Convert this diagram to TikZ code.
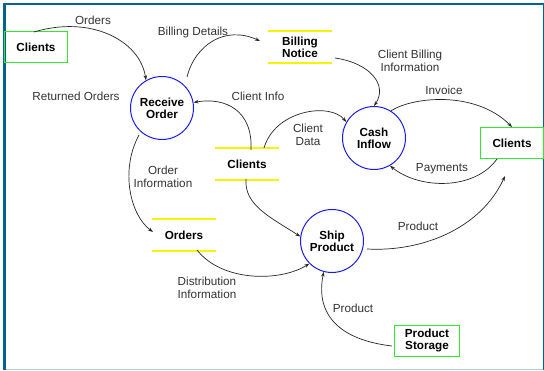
\documentclass[tikz,border=0pt]{standalone}
\usepackage{fontspec}
\setmainfont{Liberation Sans}
\usetikzlibrary{arrows.meta}
\definecolor{frameblue}{HTML}{00628F}
\definecolor{framelight}{HTML}{B4D2E0}
\definecolor{boxgreen}{HTML}{33E633}
\definecolor{storeyellow}{HTML}{F5F500}
\definecolor{procblue}{HTML}{1A1AF0}
\begin{document}
\begin{tikzpicture}[x=1pt,y=-1pt,
  every node/.style={font=\fontsize{11.7}{13}\selectfont, align=center, inner sep=0pt},
  entity/.style={draw=boxgreen, line width=1pt, minimum width=63pt, minimum height=31pt, font=\fontsize{11.7}{13}\selectfont\bfseries},
  proc/.style={circle, draw=procblue, line width=1pt, minimum size=63pt, font=\fontsize{11.7}{13}\selectfont\bfseries},
  storetext/.style={minimum width=64pt, minimum height=31pt, font=\fontsize{11.7}{13}\selectfont\bfseries},
  storeline/.style={draw=storeyellow, line width=1.9pt},
  flow/.style={draw=black!85, line width=0.7pt, -{Stealth[length=5pt,width=3.5pt]}},
  lbl/.style={text=black!80}
]
\useasboundingbox (0,0) rectangle (544,371);
\fill[white] (0,0) rectangle (544,371);
% frame
\draw[framelight, line width=1.5pt] (4,369.5) -- (543,369.5);
\draw[frameblue, line width=1pt] (543.3,3) -- (543.3,370);
\draw[frameblue, line width=2pt] (3,4) -- (544,4);
\draw[frameblue, line width=3pt] (4,3) -- (4,370);

% entities
\node[entity] (c1) at (36,47) {Clients};
\node[entity] (c2) at (512,143) {Clients};
\node[entity, minimum width=65pt] (ps) at (427,341) {Product\\[-1pt]Storage};

% processes
\node[proc] (ro) at (162,108) {Receive\\[-1pt]Order};
\node[proc] (ci) at (374,138) {Cash\\[-1pt]Inflow};
\node[proc] (sp) at (332,241) {Ship\\[-1pt]Product};

% data stores
\node[storetext] (bn) at (300,47) {Billing\\[-1pt]Notice};
\draw[storeline] (bn.north west) -- (bn.north east);
\draw[storeline] (bn.south west) -- (bn.south east);
\node[storetext] (cs) at (247,164) {Clients};
\draw[storeline] (cs.north west) -- (cs.north east);
\draw[storeline] (cs.south west) -- (cs.south east);
\node[storetext] (os) at (184,235) {Orders};
\draw[storeline] (os.north west) -- (os.north east);
\draw[storeline] (os.south west) -- (os.south east);

% flows
\coordinate (c1a) at (34,32);
\draw[flow] (c1a) .. controls (90,15) and (140,40) .. (ro.120);
\node[lbl] (l1) at (93,20) {Orders};

\coordinate (roa) at (187,77);
\coordinate (bna) at (260,41);
\draw[flow] (roa) .. controls (195,45) and (225,25) .. (bna);
\node[lbl] (l2) at (193,32) {Billing Details};

\coordinate (bnb) at (335,58);
\draw[flow] (bnb) .. controls (370,63) and (388,85) .. (ci.north);
\node[lbl] (l3) at (410,61) {Client Billing\\Information};

\draw[flow] (ci.58) .. controls (412,97) and (475,90) .. (c2.north);
\node[lbl] (l4) at (444,90) {Invoice};

\coordinate (c2b) at (497,159);
\draw[flow] (c2b) .. controls (475,190) and (420,190) .. (ci.-60);
\node[lbl] (l5) at (442,169) {Payments};

\coordinate (csa) at (251,150);
\draw[flow] (csa) .. controls (253,110) and (225,97) .. (ro.10);
\node[lbl] (l6) at (258,96) {Client Info};

\coordinate (csb) at (264,148);
\draw[flow] (csb) .. controls (275,110) and (330,102) .. (ci.150);
\node[lbl] (l7) at (308,135) {Client\\Data};

\coordinate (csc) at (246,179);
\draw[flow] (csc) .. controls (244,205) and (270,217) .. (sp.172);

\coordinate (roc) at (139,135);
\coordinate (osa) at (153,232);
\draw[flow] (roc) .. controls (120,170) and (130,215) .. (osa);
\node[lbl] (l8) at (163,177) {Order\\Information};

\coordinate (osb) at (197,250);
\draw[flow] (osb) .. controls (222,282) and (280,282) .. (sp.-135);
\node[lbl] (l9) at (207,288) {Distribution\\Information};

\coordinate (spa) at (367,249);
\coordinate (c2c) at (505,176);
\draw[flow] (spa) .. controls (420,252) and (480,230) .. (c2c);
\node[lbl] (l10) at (418,226) {Product};

\coordinate (psa) at (392,346);
\draw[flow] (psa) .. controls (340,340) and (315,315) .. (sp.-105);
\node[lbl] (l11) at (353,308) {Product};

\node[lbl] (l12) at (76,96) {Returned Orders};
\end{tikzpicture}
\end{document}
